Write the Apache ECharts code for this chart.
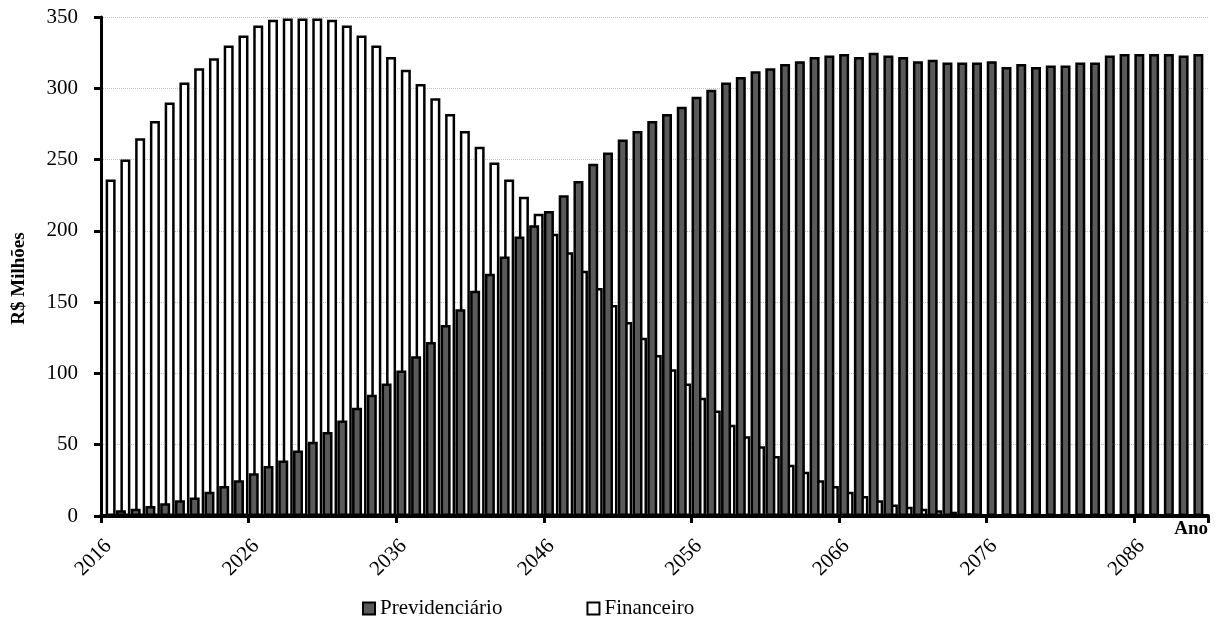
<!DOCTYPE html>
<html>
<head>
<meta charset="utf-8">
<script src="https://cdn.jsdelivr.net/npm/echarts@6/dist/echarts.min.js"></script>
<style>
html,body{margin:0;padding:0;background:#fff;}
#chart{width:1227px;height:619px;}
</style>
</head>
<body>
<div id="chart"></div>
<script>
var years = [];
for (var y = 2016; y <= 2090; y++) { years.push(String(y)); }

var previdenciario = [
  1, 4, 5, 7, 9, 11, 13, 17, 21, 25,
  30, 35, 39, 46, 52, 59, 67, 76, 85, 93,
  102, 112, 122, 134, 145, 158, 170, 182, 196, 204,
  214, 225, 235, 247, 255, 264, 270, 277, 282, 287,
  294, 299, 304, 308, 312, 314, 317, 319, 322, 323,
  324, 322, 325, 323, 322, 319, 320, 318, 318, 318,
  319, 315, 317, 315, 316, 316, 318, 318, 323, 324,
  324, 324, 324, 323, 324
];

var financeiro = [
  236, 250, 265, 277, 290, 304, 314, 321, 330, 337,
  344, 348, 349, 349, 349, 348, 344, 337, 330, 322,
  313, 303, 293, 282, 270, 259, 248, 236, 224, 212,
  198, 185, 172, 160, 148, 136, 125, 113, 103, 93,
  83, 74, 64, 56, 49, 42, 36, 31, 25, 21,
  17, 14, 11, 8, 6.5, 5, 4, 3, 2, 1,
  0, 0, 0, 0, 0, 0, 0, 0, 0, 0,
  0, 0, 0, 0, 0
];

var yTicks = [0, 50, 100, 150, 200, 250, 300, 350];

var serif = '"Liberation Serif", "Times New Roman", serif';
var chart = echarts.init(document.getElementById('chart'), null, {renderer: 'canvas'});
chart.setOption({
  backgroundColor: '#ffffff',
  animation: false,
  grid: {left: 101, right: 19, top: 17, bottom: 103, containLabel: false},
  legend: {
    data: ['Previdenciário', 'Financeiro'],
    left: 357, top: 593,
    itemWidth: 12, itemHeight: 12, itemGap: 84,
    icon: 'rect',
    textStyle: {fontFamily: serif, fontSize: 21, color: '#000'}
  },
  xAxis: {
    type: 'category',
    data: years,
    name: 'Ano',
    nameLocation: 'end',
    nameGap: 0,
    nameTextStyle: {fontFamily: serif, fontSize: 19, fontWeight: 'bold', color: '#000',
      align: 'right', verticalAlign: 'top', padding: [4, 0, 0, 0]},
    axisLine: {lineStyle: {color: '#000', width: 4}},
    axisTick: {show: true, interval: function (i) { return i % 10 === 0; }, length: 7, lineStyle: {color: '#000', width: 3}},
    axisLabel: {interval: 9, rotate: 45, margin: 27, fontFamily: serif, fontSize: 21, color: '#000'},
    splitLine: {show: false}
  },
  yAxis: {
    type: 'value',
    min: yTicks[0], max: yTicks[yTicks.length - 1], interval: 50,
    name: 'R$ Milhões',
    nameLocation: 'middle',
    nameRotate: 90,
    nameGap: 72,
    nameTextStyle: {fontFamily: serif, fontSize: 19, fontWeight: 'bold', color: '#000', padding: [0, 24, 0, 0]},
    axisLine: {show: true, lineStyle: {color: '#000', width: 3}},
    axisTick: {show: true, length: 7, lineStyle: {color: '#000', width: 3}},
    axisLabel: {margin: 23, fontFamily: serif, fontSize: 21, color: '#000'},
    splitLine: {show: true, lineStyle: {type: 'dotted', color: '#c4c4c4', width: 1}}
  },
  series: [
    {
      name: 'Previdenciário',
      type: 'bar',
      data: previdenciario,
      barWidth: 10,
      barGap: '-55%',
      z: 3,
      itemStyle: {color: '#5a5a5a', borderColor: '#000', borderWidth: 2.5}
    },
    {
      name: 'Financeiro',
      type: 'bar',
      data: financeiro,
      barWidth: 10,
      z: 2,
      itemStyle: {color: '#ffffff', borderColor: '#000', borderWidth: 2.5}
    }
  ]
});
</script>
</body>
</html>
